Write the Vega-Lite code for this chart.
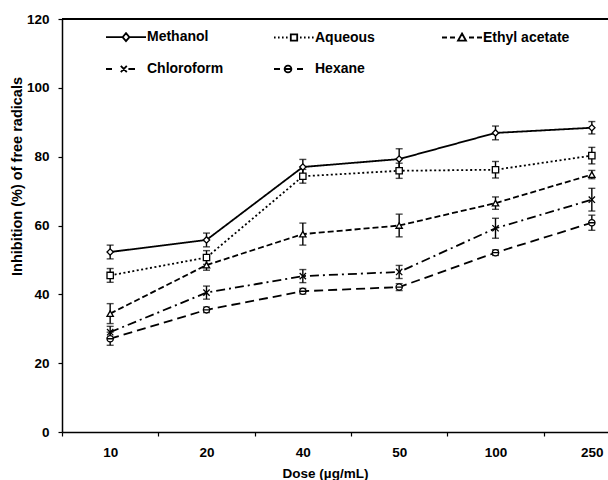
{
  "$schema": "https://vega.github.io/schema/vega-lite/v6.json",
  "autosize": {"type": "none"},
  "padding": {"left": 62, "top": 19, "right": 0, "bottom": 48},
  "width": 546,
  "height": 413,
  "background": "white",
  "config": {
    "view": {"stroke": null},
    "font": "Liberation Sans",
    "axis": {"labelFont": "Liberation Sans", "titleFont": "Liberation Sans", "labelFontWeight": "bold", "titleFontWeight": "bold", "labelColor": "black", "titleColor": "black", "domainColor": "black", "tickColor": "black", "domainWidth": 1.5, "tickWidth": 1.2, "grid": false},
    "legend": {"labelFont": "Liberation Sans", "labelFontWeight": "bold", "labelColor": "black"}
  },
  "data": {"values": [
    {"solvent": "Methanol", "dose": 10, "v": 52.3, "e": 2.0},
    {"solvent": "Methanol", "dose": 20, "v": 55.8, "e": 2.0},
    {"solvent": "Methanol", "dose": 40, "v": 77.0, "e": 2.2},
    {"solvent": "Methanol", "dose": 50, "v": 79.3, "e": 3.0},
    {"solvent": "Methanol", "dose": 100, "v": 86.9, "e": 2.0},
    {"solvent": "Methanol", "dose": 250, "v": 88.4, "e": 1.8},
    {"solvent": "Aqueous", "dose": 10, "v": 45.5, "e": 2.0},
    {"solvent": "Aqueous", "dose": 20, "v": 50.7, "e": 2.0},
    {"solvent": "Aqueous", "dose": 40, "v": 74.3, "e": 2.0},
    {"solvent": "Aqueous", "dose": 50, "v": 75.9, "e": 2.2},
    {"solvent": "Aqueous", "dose": 100, "v": 76.2, "e": 2.4},
    {"solvent": "Aqueous", "dose": 250, "v": 80.3, "e": 2.4},
    {"solvent": "Ethyl acetate", "dose": 10, "v": 34.4, "e": 2.9},
    {"solvent": "Ethyl acetate", "dose": 20, "v": 48.5, "e": 1.5},
    {"solvent": "Ethyl acetate", "dose": 40, "v": 57.5, "e": 3.2},
    {"solvent": "Ethyl acetate", "dose": 50, "v": 60.0, "e": 3.3},
    {"solvent": "Ethyl acetate", "dose": 100, "v": 66.5, "e": 1.8},
    {"solvent": "Ethyl acetate", "dose": 250, "v": 74.8, "e": 1.2},
    {"solvent": "Chloroform", "dose": 10, "v": 29.0, "e": 1.7},
    {"solvent": "Chloroform", "dose": 20, "v": 40.5, "e": 1.9},
    {"solvent": "Chloroform", "dose": 40, "v": 45.3, "e": 1.9},
    {"solvent": "Chloroform", "dose": 50, "v": 46.5, "e": 1.9},
    {"solvent": "Chloroform", "dose": 100, "v": 59.2, "e": 2.9},
    {"solvent": "Chloroform", "dose": 250, "v": 67.5, "e": 3.3},
    {"solvent": "Hexane", "dose": 10, "v": 27.1, "e": 1.9},
    {"solvent": "Hexane", "dose": 20, "v": 35.5, "e": 0.8},
    {"solvent": "Hexane", "dose": 40, "v": 40.9, "e": 0.8},
    {"solvent": "Hexane", "dose": 50, "v": 42.1, "e": 1.0},
    {"solvent": "Hexane", "dose": 100, "v": 52.1, "e": 0.8},
    {"solvent": "Hexane", "dose": 250, "v": 60.8, "e": 2.2}
  ]},
  "encoding": {
    "x": {
      "field": "dose", "type": "ordinal",
      "scale": {"type": "band", "domain": [10, 20, 40, 50, 100, 250], "range": [0, 578], "paddingInner": 0, "paddingOuter": 0},
      "axis": {"title": "Dose (µg/mL)", "labelAngle": 0, "labelFontSize": 13.5, "titleFontSize": 13.5, "tickBand": "extent", "tickSize": 4, "labelPadding": 9, "titleX": 263, "titleY": 41, "titleBaseline": "middle", "titleAnchor": null, "titleAlign": "center"}
    }
  },
  "resolve": {"scale": {"shape": "independent"}, "legend": {"shape": "independent"}},
  "layer": [
    {
      "mark": {"type": "rule", "color": "black", "strokeWidth": 1.5},
      "encoding": {"x": null, "y": {"datum": 120, "type": "quantitative", "title": "Inhibition (%) of free radicals"}}
    },
    {
      "mark": {"type": "errorbar", "color": "black", "thickness": 1.4, "ticks": {"size": 7, "thickness": 1.4, "color": "black"}},
      "encoding": {
        "y": {"field": "v", "type": "quantitative", "title": "Inhibition (%) of free radicals"},
        "yError": {"field": "e"},
        "detail": {"field": "solvent"}
      }
    },
    {
      "mark": {"type": "line", "color": "black", "strokeWidth": 1.8},
      "encoding": {
        "y": {
          "field": "v", "type": "quantitative",
          "title": "Inhibition (%) of free radicals",
          "scale": {"domain": [0, 120], "nice": false},
          "axis": {"values": [0, 20, 40, 60, 80, 100, 120], "labelFontSize": 13.5, "titleFontSize": 14.5, "tickSize": 4, "labelPadding": 9, "titleX": -45, "titleY": 157, "titleBaseline": "middle", "titleAlign": "center", "titleAngle": -90}
        },
        "strokeDash": {
          "field": "solvent", "type": "nominal",
          "scale": {"domain": ["Methanol", "Aqueous", "Ethyl acetate", "Chloroform", "Hexane"], "range": [[1, 0], [2, 2.5], [6, 3], [9, 4, 2, 4], [9, 5]]},
          "legend": null
        }
      }
    },
    {
      "mark": {"type": "point", "filled": true, "fill": "white", "stroke": "black", "strokeWidth": 1.3, "size": 40, "opacity": 1},
      "encoding": {
        "y": {"field": "v", "type": "quantitative", "title": "Inhibition (%) of free radicals"},
        "shape": {
          "field": "solvent", "type": "nominal",
          "scale": {"domain": ["Methanol", "Aqueous", "Ethyl acetate", "Chloroform", "Hexane"], "range": ["diamond", "square", "triangle-up", "M-1,-1L1,1M-1,1L1,-1", "M-1,0A1,1 0 1,0 1,0A1,1 0 1,0 -1,0ZM-1,0H1"]},
          "legend": null
        }
      }
    },
    {
      "transform": [{"filter": "false"}],
      "mark": {"type": "point", "filled": false, "color": "black", "strokeWidth": 1.8, "opacity": 1},
      "encoding": {
        "y": {"field": "v", "type": "quantitative", "title": "Inhibition (%) of free radicals"},
        "shape": {
          "field": "solvent", "type": "nominal",
          "scale": {"domain": ["Methanol", "Aqueous", "Ethyl acetate", "Chloroform", "Hexane"], "range": [
            "M-1,0L-0.17,0M0.17,0L1,0M0,-0.2L0.17,0L0,0.2L-0.17,0Z",
            "M-1,0L-0.92,0M-0.8,0L-0.72,0M-0.6,0L-0.52,0M-0.4,0L-0.32,0M0.3,0L0.38,0M0.5,0L0.58,0M0.7,0L0.78,0M0.9,0L0.98,0M-0.16,-0.16L0.16,-0.16L0.16,0.16L-0.16,0.16Z",
            "M-1,0L-0.75,0M-0.6,0L-0.35,0M0.35,0L0.6,0M0.75,0L1,0M0,-0.2L0.2,0.16L-0.2,0.16Z",
            "M-1,0L-0.7,0M0.12,0L0.45,0M-0.26,-0.16L0.04,0.16M-0.26,0.16L0.04,-0.16",
            "M-1,0L-0.7,0M0.15,0L0.45,0M-0.47,0A0.17,0.17 0 1,0 -0.13,0A0.17,0.17 0 1,0 -0.47,0ZM-0.47,0L-0.13,0"
          ]},
          "legend": {
            "title": null, "orient": "none", "legendX": 43, "legendY": -3, "direction": "horizontal", "columns": 3, "gridAlign": "all", "columnPadding": 36, "rowPadding": 3, "padding": 0,
            "symbolSize": 1600, "symbolStrokeWidth": 1.8, "symbolStrokeColor": "black", "symbolFillColor": "transparent", "symbolOpacity": 1,
            "labelFontSize": 14, "labelOffset": 0, "labelLimit": 200
          }
        }
      }
    }
  ]
}
